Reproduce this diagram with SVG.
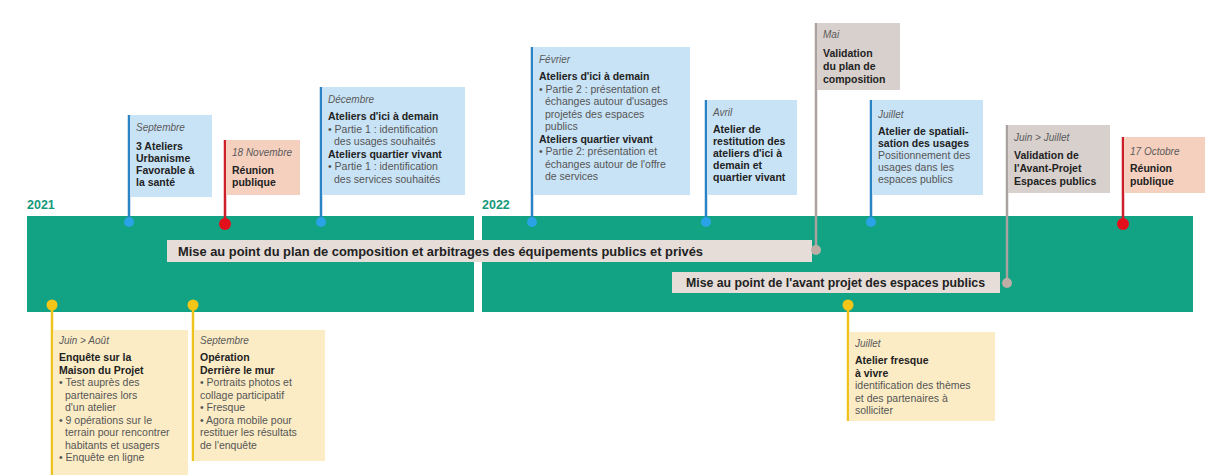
<svg xmlns="http://www.w3.org/2000/svg" width="1209" height="475" viewBox="0 0 1209 475">
<style>
.m{font:italic 10px "Liberation Sans",Arial,sans-serif;fill:#5a5a5a}
.t{font:bold 10.5px "Liberation Sans",Arial,sans-serif;fill:#222}
.b{font:10.5px "Liberation Sans",Arial,sans-serif;fill:#555}
.yr{font:bold 12.5px "Liberation Sans",Arial,sans-serif;fill:#16997b}
.bar{font:bold 12px "Liberation Sans",Arial,sans-serif;fill:#222}
.blue{fill:#c9e3f6}
.sal{fill:#f6d0bf}
.gry{fill:#d8d0cc}
.yel{fill:#fbecc6}
.sb{stroke:#2a83c4;stroke-width:2.5}
.sr{stroke:#cc1f29;stroke-width:2.5}
.sg{stroke:#aaa29e;stroke-width:2.5}
.sy{stroke:#f0c21e;stroke-width:2.5}
</style>
<rect width="1209" height="475" fill="#fff"/>
<g id="band">
<rect x="27" y="216" width="447" height="96" fill="#12a385"/>
<rect x="482" y="216" width="711" height="96" fill="#12a385"/>
<text class="yr" x="27" y="209">2021</text>
<text class="yr" x="482" y="209">2022</text>
</g>
<g id="bars">
<rect x="167" y="240" width="645" height="22" fill="#e6ddd9"/>
<text class="bar" x="178" y="255.5" textLength="525" lengthAdjust="spacingAndGlyphs">Mise au point du plan de composition et arbitrages des équipements publics et privés</text>
<rect x="672" y="272" width="328" height="21" fill="#e6ddd9"/>
<text class="bar" x="686" y="287" textLength="299" lengthAdjust="spacingAndGlyphs">Mise au point de l'avant projet des espaces publics</text>
</g>
<g id="connectors">
<line class="sb" x1="129" y1="115" x2="129" y2="222"/>
<line class="sr" x1="225" y1="140" x2="225" y2="224"/>
<line class="sb" x1="321" y1="87" x2="321" y2="222"/>
<line class="sb" x1="532" y1="47" x2="532" y2="222"/>
<line class="sb" x1="706" y1="100" x2="706" y2="222"/>
<line class="sg" x1="816" y1="23" x2="816" y2="250"/>
<line class="sb" x1="871" y1="100" x2="871" y2="222"/>
<line class="sg" x1="1007" y1="125" x2="1007" y2="283"/>
<line class="sr" x1="1123" y1="137" x2="1123" y2="224"/>
<line class="sy" x1="52" y1="305" x2="52" y2="475"/>
<line class="sy" x1="193" y1="305" x2="193" y2="461"/>
<line class="sy" x1="848" y1="305" x2="848" y2="421"/>
<circle cx="129" cy="222" r="5" fill="#2aa3e6"/>
<circle cx="225" cy="224" r="6" fill="#e3101c"/>
<circle cx="321" cy="222" r="5" fill="#2aa3e6"/>
<circle cx="532" cy="222" r="5" fill="#2aa3e6"/>
<circle cx="706" cy="222" r="5" fill="#2aa3e6"/>
<circle cx="816" cy="250" r="5" fill="#bfaea6"/>
<circle cx="871" cy="222" r="5" fill="#2aa3e6"/>
<circle cx="1007" cy="283" r="5" fill="#bfaea6"/>
<circle cx="1123" cy="224" r="6" fill="#e3101c"/>
<circle cx="52" cy="305" r="5.5" fill="#f5c518"/>
<circle cx="193" cy="305" r="5.5" fill="#f5c518"/>
<circle cx="848" cy="305" r="5.5" fill="#f5c518"/>
</g>
<g id="sept2021">
<rect class="blue" x="130" y="115" width="82" height="82"/>
<text class="m" x="136" y="131">Septembre</text>
<text class="t" x="136" y="150">3 Ateliers</text>
<text class="t" x="136" y="162">Urbanisme</text>
<text class="t" x="136" y="174">Favorable à</text>
<text class="t" x="136" y="186">la santé</text>
</g>
<g id="nov2021">
<rect class="sal" x="226" y="140" width="74" height="55"/>
<text class="m" x="232" y="156">18 Novembre</text>
<text class="t" x="232" y="174">Réunion</text>
<text class="t" x="232" y="186">publique</text>
</g>
<g id="dec2021">
<rect class="blue" x="322" y="87" width="143" height="108"/>
<text class="m" x="328" y="103">Décembre</text>
<text class="t" x="328" y="120">Ateliers d'ici à demain</text>
<text class="b" x="328" y="132.5">• Partie 1 : identification</text>
<text class="b" x="334" y="145">des usages souhaités</text>
<text class="t" x="328" y="157.5">Ateliers quartier vivant</text>
<text class="b" x="328" y="170">• Partie 1 : identification</text>
<text class="b" x="334" y="182.5">des services souhaités</text>
</g>
<g id="fev2022">
<rect class="blue" x="533" y="47" width="157" height="148"/>
<text class="m" x="539" y="63">Février</text>
<text class="t" x="539" y="80">Ateliers d'ici à demain</text>
<text class="b" x="539" y="92.5">• Partie 2 : présentation et</text>
<text class="b" x="545" y="105">échanges autour d'usages</text>
<text class="b" x="545" y="117.5">projetés des espaces</text>
<text class="b" x="545" y="130">publics</text>
<text class="t" x="539" y="142.5">Ateliers quartier vivant</text>
<text class="b" x="539" y="155">• Partie 2: présentation et</text>
<text class="b" x="545" y="167.5">échanges autour de l'offre</text>
<text class="b" x="545" y="180">de services</text>
</g>
<g id="avr2022">
<rect class="blue" x="707" y="100" width="90" height="95"/>
<text class="m" x="713" y="116">Avril</text>
<text class="t" x="713" y="133">Atelier de</text>
<text class="t" x="713" y="145">restitution des</text>
<text class="t" x="713" y="157">ateliers d'ici à</text>
<text class="t" x="713" y="169">demain et</text>
<text class="t" x="713" y="181">quartier vivant</text>
</g>
<g id="mai2022">
<rect class="gry" x="817" y="23" width="83" height="67"/>
<text class="m" x="823" y="38">Mai</text>
<text class="t" x="823" y="57">Validation</text>
<text class="t" x="823" y="70">du plan de</text>
<text class="t" x="823" y="83">composition</text>
</g>
<g id="juil2022">
<rect class="blue" x="872" y="100" width="111" height="95"/>
<text class="m" x="878" y="118">Juillet</text>
<text class="t" x="878" y="135">Atelier de spatiali-</text>
<text class="t" x="878" y="147">sation des usages</text>
<text class="b" x="878" y="159">Positionnement des</text>
<text class="b" x="878" y="171">usages dans les</text>
<text class="b" x="878" y="183">espaces publics</text>
</g>
<g id="juinjuil2022">
<rect class="gry" x="1008" y="125" width="102" height="68"/>
<text class="m" x="1014" y="141">Juin &gt; Juillet</text>
<text class="t" x="1014" y="159">Validation de</text>
<text class="t" x="1014" y="172">l'Avant-Projet</text>
<text class="t" x="1014" y="185">Espaces publics</text>
</g>
<g id="oct2022">
<rect class="sal" x="1124" y="137" width="81" height="56"/>
<text class="m" x="1130" y="155">17 Octobre</text>
<text class="t" x="1130" y="172">Réunion</text>
<text class="t" x="1130" y="185">publique</text>
</g>
<g id="juinaout2021">
<rect class="yel" x="53" y="330" width="135" height="145"/>
<text class="m" x="59" y="344">Juin &gt; Août</text>
<text class="t" x="59" y="361">Enquête sur la</text>
<text class="t" x="59" y="373.5">Maison du Projet</text>
<text class="b" x="59" y="386">• Test auprès des</text>
<text class="b" x="65" y="398.5">partenaires lors</text>
<text class="b" x="65" y="411">d'un atelier</text>
<text class="b" x="59" y="423.5">• 9 opérations sur le</text>
<text class="b" x="65" y="436">terrain pour rencontrer</text>
<text class="b" x="65" y="448.5">habitants et usagers</text>
<text class="b" x="59" y="461">• Enquête en ligne</text>
</g>
<g id="sept2021b">
<rect class="yel" x="194" y="330" width="131" height="131"/>
<text class="m" x="200" y="344">Septembre</text>
<text class="t" x="200" y="361">Opération</text>
<text class="t" x="200" y="373.5">Derrière le mur</text>
<text class="b" x="200" y="386">• Portraits photos et</text>
<text class="b" x="200" y="398.5">collage participatif</text>
<text class="b" x="200" y="411">• Fresque</text>
<text class="b" x="200" y="423.5">• Agora mobile pour</text>
<text class="b" x="200" y="436">restituer les résultats</text>
<text class="b" x="200" y="448.5">de l'enquête</text>
</g>
<g id="juil2022b">
<rect class="yel" x="849" y="332" width="146" height="89"/>
<text class="m" x="855" y="347">Juillet</text>
<text class="t" x="855" y="364">Atelier fresque</text>
<text class="t" x="855" y="376.5">à vivre</text>
<text class="b" x="855" y="389">identification des thèmes</text>
<text class="b" x="855" y="401.5">et des partenaires à</text>
<text class="b" x="855" y="414">solliciter</text>
</g>
</svg>
